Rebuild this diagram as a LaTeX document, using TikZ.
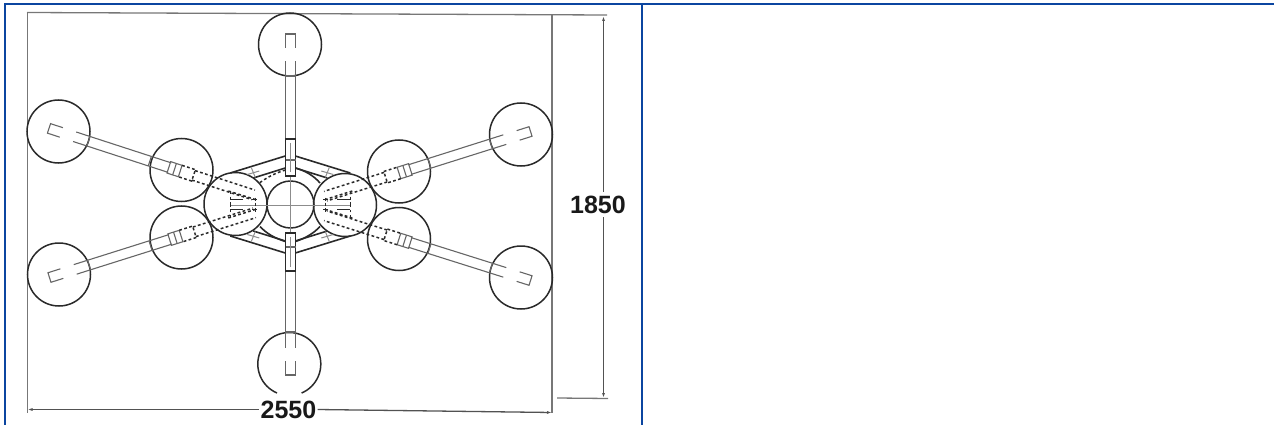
\documentclass[tikz,border=0pt]{standalone}
\usepackage{fontspec}
\setmainfont{Liberation Sans}
\usetikzlibrary{arrows.meta}
\definecolor{frameblue}{HTML}{0B45A0}
\definecolor{ink}{HTML}{2A2A2A}
\definecolor{rodgray}{HTML}{666666}
\definecolor{sheetgray}{HTML}{777777}
\tikzset{
  frameline/.style={draw=frameblue,line width=2pt},
  sheet/.style={draw=sheetgray,line width=1.3pt},
  dimline/.style={draw=rodgray!80!black,line width=1.3pt},
  wheel/.style={draw=ink,line width=1.5pt},
  rod/.style={draw=rodgray,line width=1.1pt},
  heavy/.style={draw=ink,line width=1.6pt},
  hidden/.style={draw=ink,line width=1.5pt,dash pattern=on 2.8pt off 2.4pt},
  fine/.style={draw=rodgray!75,line width=1pt},
  dimtext/.style={font=\bfseries\fontsize{25}{25}\selectfont,fill=white,inner sep=1pt,text=black!90}
}
\begin{document}
\begin{tikzpicture}[x=1pt,y=-1pt]
\useasboundingbox (0,0) rectangle (1274,425);
% page frame
\draw[frameline] (4,4) -- (1274,4);
\draw[frameline] (5,4) -- (5,425);
\draw[frameline] (641.5,4) -- (641.5,425);
% sheet outline
\draw[sheet] (27,12.5) -- (607,15);
\draw[sheet] (27.5,12.5) -- (27.5,413);
\draw[sheet] (552,15) -- (552,413);
\draw[sheet] (557,398) -- (608,398.5);
% dimensions
\node[dimtext] (dimw) at (288.5,409.5) {2550};
\node[dimtext] (dimh) at (598,205) {1850};
\coordinate (wl) at (27.5,409.5);
\coordinate (wr) at (552,412.5);
\coordinate (ht) at (603.5,16);
\coordinate (hb) at (603.5,398);
\draw[dimline,{Latex[length=5pt,width=3pt]}-] (wl) -- (dimw.west);
\draw[dimline,-{Latex[length=5pt,width=3pt]}] (dimw.east) -- (wr);
\draw[dimline,{Latex[length=5pt,width=3pt]}-] (ht) -- (603.5,192);
\draw[dimline,-{Latex[length=5pt,width=3pt]}] (603.5,217) -- (hb);
% wheels
\foreach \cx/\cy in {290/44.5,58.5/131.5,59/274.5,521/134.5,521/277.5,181.5/170,181.5/237.5,399/171.5,399/239,235.5/204,345/205}
  \draw[wheel] (\cx,\cy) circle[radius=31.5];
\draw[wheel] (277,393) arc[start angle=113,end angle=427,radius=31.5];
\draw[wheel] (290.5,204.5) circle[radius=23.5];
% centre lines
\draw[fine] (230,205) -- (350,205);
\draw[fine] (290.5,176) -- (290.5,233);
% vertical arms
\draw[rod] (285.5,139) -- (285.5,61.5) (295.5,139) -- (295.5,61.5);
\draw[rod] (285.5,48) -- (285.5,34) -- (295.5,34) -- (295.5,48);
\draw[rod] (285.5,76) -- (295.5,76);
\draw[rod] (285.5,271) -- (285.5,348) (295.5,271) -- (295.5,348);
\draw[rod] (285.5,361) -- (285.5,375) -- (295.5,375) -- (295.5,361);
\draw[rod] (285.5,332) -- (295.5,332);
% hubs
\draw[heavy] (285.5,139) rectangle (295.5,176);
\draw[heavy] (285.5,233) rectangle (295.5,271);
\draw[rod] (285.5,160) -- (295.5,160) (285.5,247) -- (295.5,247);
\draw[fine] (290.5,143) -- (290.5,172) (290.5,237) -- (290.5,267);
% slanted arms
\foreach \cx/\cy/\rot in {58.5/131.5/-18,59/274.5/17.5,521/134.5/197.5,521/277.5/162.5}{
  \begin{scope}[shift={(\cx,\cy)},rotate=\rot]
    \draw[rod] (3,-5) -- (-10,-5) -- (-10,5) -- (3,5);
    \draw[rod] (17,-5) -- (117,-5) (17,5) -- (117,5);
    \draw[rod] (31.5,-5) -- (31.5,5) (96,-5) -- (96,5);
    \draw[rod] (128,-6) -- (116,-6) -- (116,6) -- (128,6) -- cycle;
    \draw[rod] (122,-6) -- (122,6);
    \draw[hidden] (128,-6) -- (142,-6) -- (142,6) -- (128,6);
    \draw[hidden] (142,-5) -- (205,-5) (142,5) -- (205,5);
  \end{scope}
}
% frame braces, mirrored about the centre
\foreach \mx in {1,-1}{
  \foreach \my in {1,-1}{
    \begin{scope}[shift={(290.3,204.5)},xscale=\mx,yscale=\my]
      \draw[heavy] (-5,-48.5) -- (-60,-31.5);
      \draw[heavy] (-5,-36.5) -- (-37,-26.5);
      \draw[fine] (-39,-37) -- (-35,-27) (-43,-30) -- (-31,-33.5);
      \draw[hidden] (-35,-7) -- (-35,7);
      \draw[hidden] (-62,-13.5) -- (-35,-5);
      \draw[hidden] (-60,-13) -- (-60,0);
      \draw[fine,draw=ink] (-38,-5) -- (-33,-5);
      \draw[fine,draw=ink] (-60,-5) -- (-47,-5);
    \end{scope}
  }
}
% curved struts beside the centre circle
\draw[heavy] (285.5,241.5) .. controls (274,238) and (266,233) .. (260,226.5);
\draw[heavy] (295.5,241.5) .. controls (306,238) and (314,233) .. (320,226.5);
\draw[heavy] (295.5,168) .. controls (306,171) and (314,176) .. (320,183);
\draw[hidden] (285.5,170) .. controls (275,173) and (266,178) .. (258,184);
\end{tikzpicture}
\end{document}
